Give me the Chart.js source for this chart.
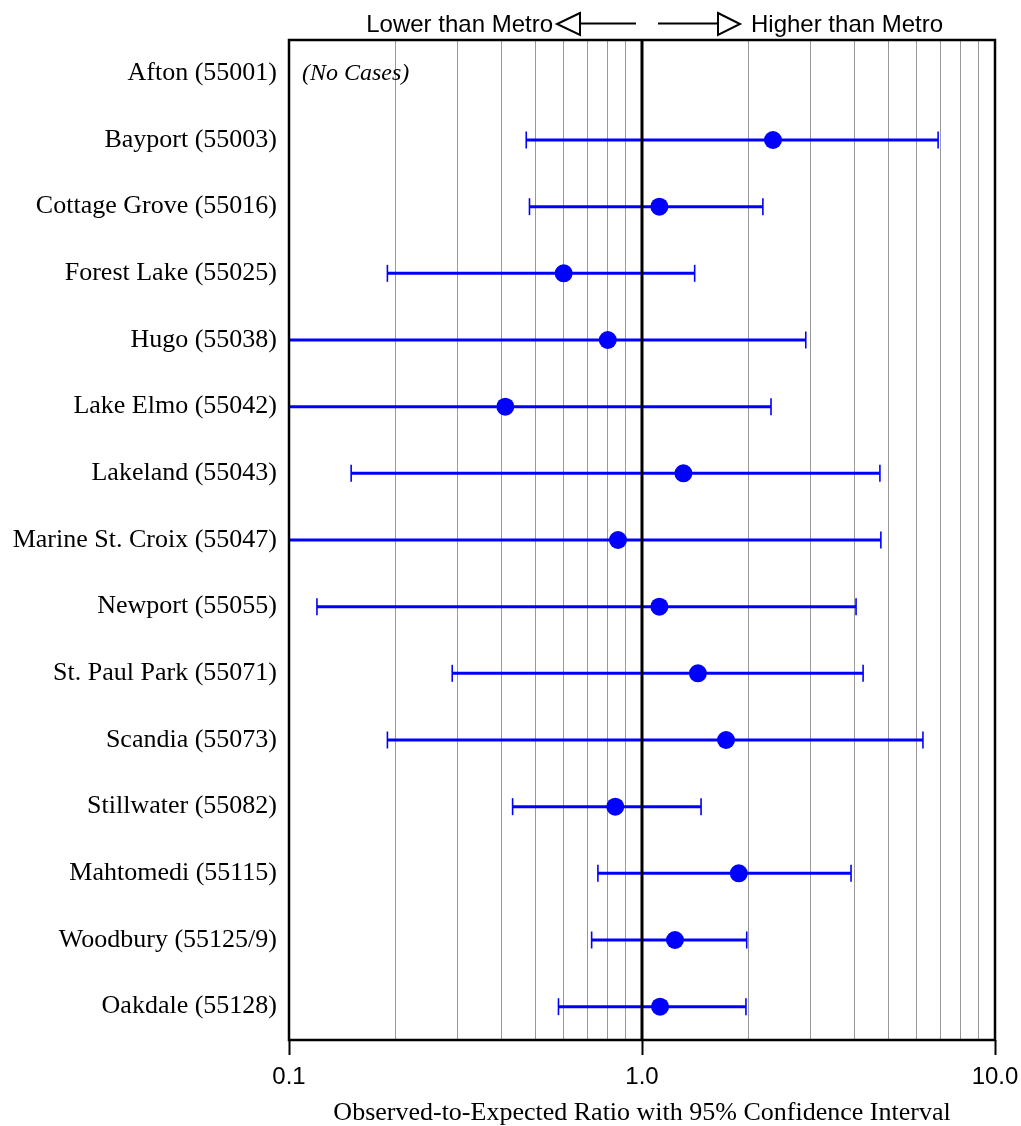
<!DOCTYPE html>
<html>
<head>
<meta charset="utf-8">
<title>Observed-to-Expected Ratio by ZIP Code</title>
<script src="https://cdn.jsdelivr.net/npm/chart.js@4/dist/chart.umd.min.js"></script>
<style>
  html, body { margin: 0; padding: 0; background: #ffffff; }
  #wrap { width: 1021px; height: 1126px; position: relative; }
</style>
</head>
<body>
<div id="wrap"><canvas id="chart"></canvas></div>
<script>
// Communities (ZIP code) listed top to bottom
const sites = [
  'Afton (55001)', 'Bayport (55003)', 'Cottage Grove (55016)', 'Forest Lake (55025)',
  'Hugo (55038)', 'Lake Elmo (55042)', 'Lakeland (55043)', 'Marine St. Croix (55047)',
  'Newport (55055)', 'St. Paul Park (55071)', 'Scandia (55073)', 'Stillwater (55082)',
  'Mahtomedi (55115)', 'Woodbury (55125/9)', 'Oakdale (55128)'
];
// Observed-to-expected ratio (null = no cases)
const ratio = [null, 2.35, 1.12, 0.60, 0.80, 0.41, 1.31, 0.855, 1.12, 1.44, 1.73, 0.84, 1.88, 1.24, 1.125];
// 95% confidence interval bounds
const lower = [null, 0.47, 0.48, 0.19, 0.08, 0.07, 0.15, 0.07, 0.12, 0.29, 0.19, 0.43, 0.75, 0.72, 0.58];
const upper = [null, 6.90, 2.20, 1.41, 2.91, 2.32, 4.72, 4.75, 4.04, 4.23, 6.25, 1.47, 3.91, 1.98, 1.97];

// Log-axis gridline positions and the ones that carry a label
const gridTicks = [0.1, 0.2, 0.3, 0.4, 0.5, 0.6, 0.7, 0.8, 0.9, 1, 2, 3, 4, 5, 6, 7, 8, 9, 10];
const labeledTicks = [0.1, 1, 10];
const labeledTickText = ['0.1', '1.0', '10.0'];

const noCasesText = '(No Cases)';
const lowerText = 'Lower than Metro';
const higherText = 'Higher than Metro';
const axisTitle = 'Observed-to-Expected Ratio with 95% Confidence Interval';

const BLUE = '#0000ff';
const SERIF = "'Liberation Serif', 'Times New Roman', serif";
const SANS = "'Liberation Sans', Arial, sans-serif";

function isLabeled(v) {
  return labeledTicks.some(t => Math.abs(t - v) < 1e-9);
}

// Point estimates first so they are painted above the interval lines
const datasets = [{
  type: 'scatter',
  label: 'ratio',
  data: sites.map((s, i) => ratio[i] == null ? null : { x: ratio[i], y: s }).filter(d => d),
  backgroundColor: BLUE,
  borderColor: BLUE,
  pointRadius: 9,
  pointHoverRadius: 9,
  pointBorderWidth: 0,
  clip: 0
}];

// One horizontal interval line per community, with vertical end caps
sites.forEach((s, i) => {
  if (lower[i] == null) return;
  datasets.push({
    type: 'line',
    label: s,
    data: [{ x: lower[i], y: s }, { x: upper[i], y: s }],
    borderColor: BLUE,
    backgroundColor: BLUE,
    borderWidth: 3,
    pointStyle: 'line',
    pointRotation: 90,
    pointRadius: 8.5,
    pointHoverRadius: 8.5,
    pointBorderWidth: 1.6,
    pointBorderColor: BLUE,
    fill: false,
    clip: 0
  });
});

const decorations = {
  id: 'decorations',
  beforeDatasetDraw(chart, args) {
    if (args.index !== 0) return;
    // reference line at ratio 1.0
    const ca = chart.chartArea;
    const x = chart.scales.x.getPixelForValue(1);
    const ctx = chart.ctx;
    ctx.save();
    ctx.strokeStyle = '#000';
    ctx.lineWidth = 3;
    ctx.beginPath();
    ctx.moveTo(x, ca.top);
    ctx.lineTo(x, ca.bottom);
    ctx.stroke();
    ctx.restore();
  },
  afterDraw(chart) {
    const ctx = chart.ctx;
    const ca = chart.chartArea;
    const xs = chart.scales.x;
    const ys = chart.scales.y;
    ctx.save();

    // plot frame
    ctx.strokeStyle = '#000';
    ctx.lineWidth = 2.5;
    ctx.strokeRect(ca.left, ca.top, ca.right - ca.left, ca.bottom - ca.top);

    // note for the row without cases
    sites.forEach((s, i) => {
      if (ratio[i] != null) return;
      ctx.fillStyle = '#000';
      ctx.font = 'italic 24px ' + SERIF;
      ctx.textAlign = 'left';
      ctx.textBaseline = 'middle';
      ctx.fillText(noCasesText, ca.left + 13, ys.getPixelForValue(i));
    });

    // direction legend above the plot
    const cx = xs.getPixelForValue(1);
    const yMid = 24;
    ctx.fillStyle = '#000';
    ctx.font = '24px ' + SANS;
    ctx.textBaseline = 'middle';
    ctx.textAlign = 'right';
    ctx.fillText(lowerText, cx - 89, yMid + 1);
    ctx.textAlign = 'left';
    ctx.fillText(higherText, cx + 109, yMid + 1);

    ctx.strokeStyle = '#000';
    ctx.lineWidth = 2;
    // left arrow
    ctx.beginPath();
    ctx.moveTo(cx - 6, yMid - 0.5);
    ctx.lineTo(cx - 62, yMid - 0.5);
    ctx.stroke();
    ctx.beginPath();
    ctx.moveTo(cx - 62, yMid - 11);
    ctx.lineTo(cx - 85, yMid);
    ctx.lineTo(cx - 62, yMid + 11);
    ctx.closePath();
    ctx.stroke();
    // right arrow
    ctx.beginPath();
    ctx.moveTo(cx + 16, yMid - 0.5);
    ctx.lineTo(cx + 76, yMid - 0.5);
    ctx.stroke();
    ctx.beginPath();
    ctx.moveTo(cx + 76, yMid - 11);
    ctx.lineTo(cx + 98, yMid);
    ctx.lineTo(cx + 76, yMid + 11);
    ctx.closePath();
    ctx.stroke();

    ctx.restore();
  }
};

new Chart(document.getElementById('chart'), {
  type: 'scatter',
  data: { labels: sites, datasets: datasets },
  options: {
    responsive: true,
    maintainAspectRatio: false,
    devicePixelRatio: 1,
    animation: false,
    events: [],
    layout: { padding: { left: 0, top: 40, right: 26, bottom: 0 } },
    plugins: {
      legend: { display: false },
      tooltip: { enabled: false }
    },
    scales: {
      x: {
        type: 'logarithmic',
        position: 'bottom',
        min: 0.1,
        max: 10,
        afterBuildTicks(scale) {
          scale.ticks = gridTicks.map(v => ({ value: v }));
        },
        afterFit(scale) {
          scale.height = 86;
          scale.paddingLeft = 0;
          scale.paddingRight = 0;
        },
        border: { display: false },
        grid: {
          drawOnChartArea: true,
          drawTicks: true,
          tickLength: 15,
          color: '#999999',
          lineWidth: 1,
          tickColor: ctx => (ctx.tick && isLabeled(ctx.tick.value)) ? '#000' : 'rgba(0,0,0,0)',
          tickWidth: 2
        },
        ticks: {
          autoSkip: false,
          maxRotation: 0,
          minRotation: 0,
          padding: 8,
          color: '#000',
          font: { family: SANS, size: 24 },
          callback(value) {
            const k = labeledTicks.findIndex(t => Math.abs(t - value) < 1e-9);
            return k >= 0 ? labeledTickText[k] : '';
          }
        },
        title: {
          display: true,
          text: axisTitle,
          color: '#000',
          font: { family: SERIF, size: 26, lineHeight: 1.0 },
          padding: { top: 0, bottom: 0 }
        }
      },
      y: {
        type: 'category',
        labels: sites,
        offset: true,
        reverse: false,
        afterFit(scale) { scale.width = 289; },
        border: { display: false },
        grid: { display: false, drawTicks: false },
        ticks: {
          autoSkip: false,
          padding: 12,
          color: '#000',
          font: { family: SERIF, size: 26 }
        }
      }
    }
  },
  plugins: [decorations]
});
</script>
</body>
</html>
